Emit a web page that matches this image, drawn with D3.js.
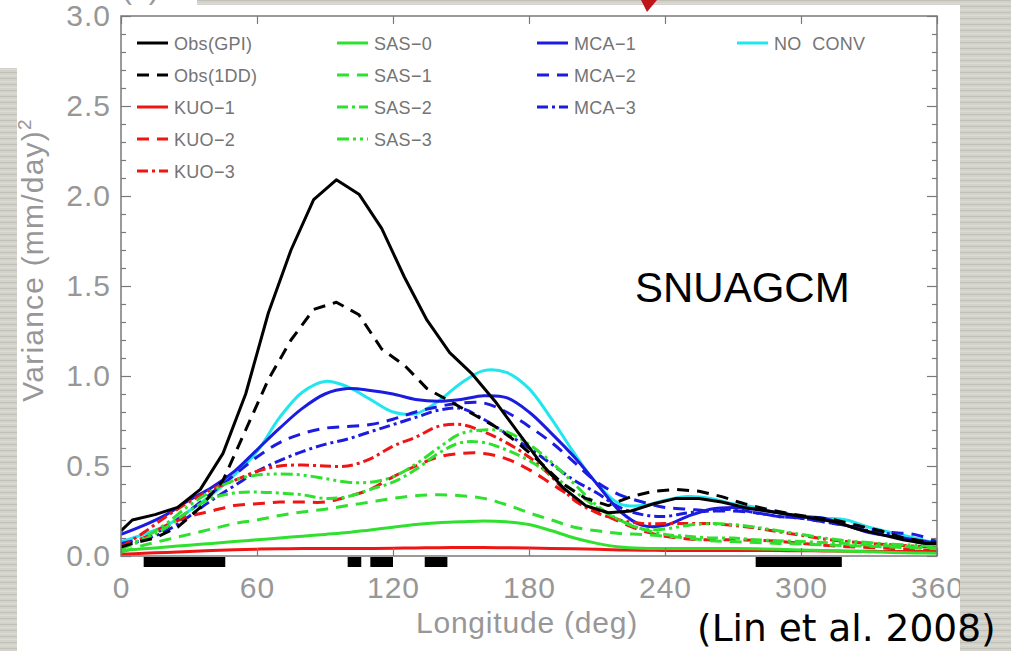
<!DOCTYPE html>
<html>
<head>
<meta charset="utf-8">
<script src="https://cdn.jsdelivr.net/npm/d3@7/dist/d3.min.js"></script>
<style>
  html, body { margin: 0; padding: 0; background: #fff; overflow: hidden; }
</style>
</head>
<body>
<svg id="fig" width="1011" height="651"></svg>
<script>
// Longitude grids (deg): observations are on a 10-deg grid centred at 5, models on 0..360 step 10
const lonObs = [0, 5, 15, 25, 35, 45, 55, 65, 75, 85, 95, 105, 115, 125, 135, 145, 155, 165, 175,
  185, 195, 205, 215, 225, 235, 245, 255, 265, 275, 285, 295, 305, 315, 325, 335, 345, 355, 360];
const lonModel = [0, 10, 20, 30, 40, 50, 60, 70, 80, 90, 100, 110, 120, 130, 140, 150, 160, 170, 180,
  190, 200, 210, 220, 230, 240, 250, 260, 270, 280, 290, 300, 310, 320, 330, 340, 350, 360];

// Variance (mm/day)^2
const obsGPI = [0.14, 0.20, 0.23, 0.27, 0.37, 0.57, 0.90, 1.35, 1.70, 1.98, 2.09, 2.01, 1.82, 1.55, 1.31,
  1.13, 1.01, 0.86, 0.69, 0.52, 0.38, 0.28, 0.24, 0.25, 0.29, 0.32, 0.32, 0.30, 0.27, 0.25, 0.23, 0.21,
  0.19, 0.15, 0.12, 0.09, 0.07, 0.07];
const obs1DD = [0.05, 0.07, 0.10, 0.16, 0.27, 0.42, 0.70, 0.98, 1.20, 1.37, 1.41, 1.34, 1.15, 1.06, 0.93,
  0.86, 0.79, 0.72, 0.63, 0.52, 0.40, 0.32, 0.28, 0.33, 0.36, 0.37, 0.36, 0.33, 0.29, 0.26, 0.235, 0.215,
  0.20, 0.17, 0.14, 0.10, 0.08, 0.07];

const kuo1 = [0.01, 0.015, 0.02, 0.025, 0.03, 0.035, 0.038, 0.04, 0.042, 0.042, 0.042, 0.042, 0.043, 0.045,
  0.046, 0.047, 0.047, 0.046, 0.044, 0.042, 0.04, 0.037, 0.034, 0.032, 0.031, 0.03, 0.03, 0.03, 0.03, 0.03,
  0.029, 0.028, 0.027, 0.026, 0.025, 0.025, 0.025];
const kuo2 = [0.05, 0.10, 0.17, 0.22, 0.25, 0.28, 0.29, 0.30, 0.30, 0.30, 0.33, 0.37, 0.44, 0.50, 0.55, 0.57,
  0.57, 0.54, 0.48, 0.40, 0.32, 0.25, 0.19, 0.14, 0.11, 0.095, 0.09, 0.09, 0.088, 0.082, 0.07, 0.06, 0.052,
  0.047, 0.042, 0.036, 0.03];
const kuo3 = [0.05, 0.13, 0.22, 0.30, 0.37, 0.42, 0.47, 0.50, 0.505, 0.50, 0.50, 0.54, 0.61, 0.66, 0.72, 0.73,
  0.69, 0.63, 0.55, 0.44, 0.31, 0.24, 0.20, 0.18, 0.18, 0.18, 0.18, 0.17, 0.155, 0.135, 0.115, 0.095, 0.08,
  0.07, 0.062, 0.055, 0.05];

const sas0 = [0.03, 0.04, 0.05, 0.06, 0.07, 0.08, 0.09, 0.10, 0.11, 0.12, 0.13, 0.145, 0.16, 0.175, 0.185, 0.19,
  0.195, 0.19, 0.175, 0.14, 0.10, 0.07, 0.05, 0.043, 0.042, 0.042, 0.042, 0.042, 0.04, 0.037, 0.034, 0.03,
  0.027, 0.024, 0.02, 0.017, 0.015];
const sas1 = [0.02, 0.06, 0.09, 0.12, 0.15, 0.18, 0.20, 0.225, 0.245, 0.26, 0.28, 0.30, 0.32, 0.335, 0.34, 0.335,
  0.32, 0.285, 0.24, 0.20, 0.16, 0.14, 0.125, 0.12, 0.11, 0.10, 0.085, 0.08, 0.075, 0.07, 0.067, 0.062, 0.058,
  0.054, 0.05, 0.045, 0.04];
const sas2 = [0.04, 0.09, 0.16, 0.25, 0.32, 0.35, 0.355, 0.35, 0.34, 0.32, 0.33, 0.37, 0.41, 0.48, 0.57, 0.63,
  0.63, 0.59, 0.53, 0.45, 0.36, 0.27, 0.20, 0.15, 0.12, 0.11, 0.10, 0.10, 0.09, 0.085, 0.08, 0.075, 0.07,
  0.06, 0.055, 0.05, 0.045];
const sas3 = [0.04, 0.10, 0.18, 0.28, 0.36, 0.42, 0.45, 0.455, 0.45, 0.43, 0.41, 0.41, 0.44, 0.51, 0.60, 0.68,
  0.70, 0.69, 0.62, 0.52, 0.40, 0.28, 0.20, 0.15, 0.15, 0.17, 0.18, 0.175, 0.16, 0.14, 0.12, 0.10, 0.085,
  0.075, 0.065, 0.06, 0.055];

const mca1 = [0.12, 0.17, 0.23, 0.31, 0.38, 0.47, 0.59, 0.71, 0.82, 0.90, 0.93, 0.92, 0.90, 0.87, 0.86, 0.87,
  0.89, 0.88, 0.80, 0.68, 0.55, 0.40, 0.25, 0.17, 0.17, 0.22, 0.26, 0.27, 0.26, 0.24, 0.22, 0.21, 0.17,
  0.13, 0.11, 0.09, 0.07];
const mca2 = [0.07, 0.10, 0.16, 0.25, 0.35, 0.45, 0.55, 0.63, 0.68, 0.71, 0.72, 0.73, 0.76, 0.80, 0.83, 0.85,
  0.85, 0.80, 0.72, 0.63, 0.52, 0.41, 0.34, 0.30, 0.27, 0.26, 0.25, 0.25, 0.24, 0.22, 0.21, 0.19, 0.17,
  0.15, 0.13, 0.12, 0.08];
const mca3 = [0.06, 0.09, 0.14, 0.22, 0.31, 0.39, 0.47, 0.53, 0.58, 0.62, 0.65, 0.69, 0.73, 0.77, 0.81, 0.82,
  0.76, 0.68, 0.60, 0.51, 0.42, 0.35, 0.27, 0.23, 0.22, 0.24, 0.25, 0.26, 0.24, 0.22, 0.21, 0.19, 0.17,
  0.14, 0.12, 0.08, 0.06];
const noConv = [0.08, 0.12, 0.17, 0.25, 0.34, 0.45, 0.58, 0.77, 0.91, 0.97, 0.94, 0.87, 0.80, 0.79, 0.86, 0.96,
  1.03, 1.02, 0.93, 0.76, 0.57, 0.40, 0.29, 0.28, 0.31, 0.33, 0.32, 0.29, 0.27, 0.24, 0.22, 0.21, 0.20,
  0.16, 0.13, 0.10, 0.07];

// Longitude ranges marked by the black bars under the axis
const barStart = [10, 100, 110, 134, 280];
const barEnd = [46, 106, 120, 144, 318];

const xTicks = [0, 60, 120, 180, 240, 300, 360];
const yMajorTicks = [0, 0.5, 1.0, 1.5, 2.0, 2.5, 3.0];
const yMinorTicks = [0.1, 0.2, 0.3, 0.4, 0.6, 0.7, 0.8, 0.9, 1.1, 1.2, 1.3, 1.4, 1.6, 1.7, 1.8, 1.9,
  2.1, 2.2, 2.3, 2.4, 2.6, 2.7, 2.8, 2.9];

// Line styles
const SOLID = null, DASH = "12,8", DASHDOT = "11,4,3,4", DASHDOT3 = "12,4,3,4,3,4";
const BLACK = "#000000", RED = "#f01515", GREEN = "#2fe02f", BLUE = "#1c1ce0", CYAN = "#22e6ee";

const seriesList = [
  { name: "Obs(GPI)", lon: lonObs, v: obsGPI, color: BLACK, dash: SOLID, curve: d3.curveLinear, col: 0, row: 0 },
  { name: "Obs(1DD)", lon: lonObs, v: obs1DD, color: BLACK, dash: DASH, curve: d3.curveLinear, col: 0, row: 1 },
  { name: "KUO\u22121", lon: lonModel, v: kuo1, color: RED, dash: SOLID, curve: d3.curveCatmullRom, col: 0, row: 2 },
  { name: "KUO\u22122", lon: lonModel, v: kuo2, color: RED, dash: DASH, curve: d3.curveCatmullRom, col: 0, row: 3 },
  { name: "KUO\u22123", lon: lonModel, v: kuo3, color: RED, dash: DASHDOT, curve: d3.curveCatmullRom, col: 0, row: 4 },
  { name: "SAS\u22120", lon: lonModel, v: sas0, color: GREEN, dash: SOLID, curve: d3.curveCatmullRom, col: 1, row: 0 },
  { name: "SAS\u22121", lon: lonModel, v: sas1, color: GREEN, dash: DASH, curve: d3.curveCatmullRom, col: 1, row: 1 },
  { name: "SAS\u22122", lon: lonModel, v: sas2, color: GREEN, dash: DASHDOT, curve: d3.curveCatmullRom, col: 1, row: 2 },
  { name: "SAS\u22123", lon: lonModel, v: sas3, color: GREEN, dash: DASHDOT3, curve: d3.curveCatmullRom, col: 1, row: 3 },
  { name: "MCA\u22121", lon: lonModel, v: mca1, color: BLUE, dash: SOLID, curve: d3.curveCatmullRom, col: 2, row: 0 },
  { name: "MCA\u22122", lon: lonModel, v: mca2, color: BLUE, dash: DASH, curve: d3.curveCatmullRom, col: 2, row: 1 },
  { name: "MCA\u22123", lon: lonModel, v: mca3, color: BLUE, dash: DASHDOT, curve: d3.curveCatmullRom, col: 2, row: 2 },
  { name: "NO  CONV", lon: lonModel, v: noConv, color: CYAN, dash: SOLID, curve: d3.curveCatmullRom, col: 3, row: 0 }
];

const svg = d3.select("#fig");
const W = 1011, H = 651;
const plot = { left: 121, right: 937, top: 16, bottom: 556 };
const x = d3.scaleLinear().domain([0, 360]).range([plot.left, plot.right]);
const y = d3.scaleLinear().domain([0, 3]).range([plot.bottom, plot.top]);
const AXIS_GREY = "#7a7a7a", LABEL_GREY = "#979797";
const SANS = "'Liberation Sans', Arial, sans-serif";

// Slide background stripes
const defs = svg.append("defs");
const pat = defs.append("pattern").attr("id", "stripes").attr("patternUnits", "userSpaceOnUse")
  .attr("width", 10).attr("height", 6);
pat.append("rect").attr("width", 10).attr("height", 6).attr("fill", "#d2d2cb");
pat.append("rect").attr("y", 0).attr("width", 10).attr("height", 1).attr("fill", "#c1c1ba");
pat.append("rect").attr("y", 3).attr("width", 10).attr("height", 1).attr("fill", "#dcdcd6");

svg.append("rect").attr("width", W).attr("height", H).attr("fill", "#ffffff");

// Panel letter, mostly above the top edge
svg.append("text").attr("x", 122).attr("y", -1).attr("font-size", 30).attr("font-family", SANS)
  .attr("fill", LABEL_GREY).text("(a)");

// Significance bars below the axis
svg.append("g").selectAll("rect").data(barStart).join("rect")
  .attr("x", (d) => x(d))
  .attr("width", (d, i) => x(barEnd[i]) - x(d))
  .attr("y", plot.bottom + 1).attr("height", 10).attr("fill", "#000");

// Data curves
defs.append("clipPath").attr("id", "plotClip").append("rect")
  .attr("x", plot.left).attr("y", plot.top).attr("width", plot.right - plot.left).attr("height", plot.bottom - plot.top);
const curves = svg.append("g").attr("clip-path", "url(#plotClip)");
const drawOrder = [12, 9, 10, 11, 2, 3, 4, 5, 6, 7, 8, 1, 0];
drawOrder.forEach((k) => {
  const s = seriesList[k];
  const line = d3.line().x((d, i) => x(s.lon[i])).y((d) => y(d)).curve(s.curve);
  curves.append("path").attr("d", line(s.v)).attr("fill", "none")
    .attr("stroke", s.color).attr("stroke-width", 3)
    .attr("stroke-dasharray", s.dash).attr("stroke-linejoin", "round");
});

// Axes: ticks point inward on all four sides
function styleAxis(g) {
  g.select(".domain").remove();
  g.selectAll(".tick line").attr("stroke", AXIS_GREY).attr("stroke-width", 1.2);
  g.selectAll(".tick text").attr("fill", LABEL_GREY).attr("font-size", 30)
    .attr("font-family", SANS).attr("letter-spacing", 1);
}
svg.append("g").attr("transform", `translate(${plot.left},0)`)
  .call(d3.axisLeft(y).tickValues(yMajorTicks).tickSizeInner(-10).tickSizeOuter(0).tickPadding(10)
    .tickFormat(d3.format(".1f"))).call(styleAxis);
svg.append("g").attr("transform", `translate(${plot.left},0)`)
  .call(d3.axisLeft(y).tickValues(yMinorTicks).tickSizeInner(-5).tickSizeOuter(0).tickFormat(() => "")).call(styleAxis);
svg.append("g").attr("transform", `translate(${plot.right},0)`)
  .call(d3.axisRight(y).tickValues(yMajorTicks).tickSizeInner(-10).tickSizeOuter(0).tickFormat(() => "")).call(styleAxis);
svg.append("g").attr("transform", `translate(${plot.right},0)`)
  .call(d3.axisRight(y).tickValues(yMinorTicks).tickSizeInner(-5).tickSizeOuter(0).tickFormat(() => "")).call(styleAxis);
svg.append("g").attr("transform", `translate(0,${plot.bottom})`)
  .call(d3.axisBottom(x).tickValues(xTicks).tickSizeInner(-8).tickSizeOuter(0).tickPadding(21)
    .tickFormat(d3.format("d"))).call(styleAxis);
svg.append("g").attr("transform", `translate(0,${plot.top})`)
  .call(d3.axisTop(x).tickValues(xTicks).tickSizeInner(-8).tickSizeOuter(0).tickFormat(() => "")).call(styleAxis);

svg.append("rect").attr("x", plot.left).attr("y", plot.top)
  .attr("width", plot.right - plot.left).attr("height", plot.bottom - plot.top)
  .attr("fill", "none").attr("stroke", AXIS_GREY).attr("stroke-width", 1.5);

// Axis titles
svg.append("text").attr("x", 527).attr("y", 633).attr("text-anchor", "middle")
  .attr("font-family", SANS).attr("font-size", 30).attr("letter-spacing", 0.8)
  .attr("fill", LABEL_GREY).text("Longitude (deg)");
const yTitle = svg.append("text").attr("transform", "translate(43,260) rotate(-90)")
  .attr("text-anchor", "middle").attr("font-family", SANS).attr("font-size", 30)
  .attr("letter-spacing", 1.2).attr("fill", LABEL_GREY);
yTitle.append("tspan").text("Variance (mm/day)");
yTitle.append("tspan").attr("dy", -12).attr("font-size", 19).text("2");

// Legend
const legX = [137, 337, 537, 737], legY = [43, 75, 107, 139, 171];
const leg = svg.append("g");
seriesList.forEach((s) => {
  const gx = legX[s.col], gy = legY[s.row];
  leg.append("line").attr("x1", gx).attr("x2", gx + 31).attr("y1", gy).attr("y2", gy)
    .attr("stroke", s.color).attr("stroke-width", 3).attr("stroke-dasharray", s.dash);
  leg.append("text").attr("x", gx + 37).attr("y", gy + 6.5).attr("font-size", 18)
    .attr("font-family", SANS).attr("letter-spacing", 0.3)
    .attr("fill", "#747474").attr("xml:space", "preserve").style("white-space", "pre").text(s.name);
});

// Slide frame stripes (drawn over the figure edges)
svg.append("rect").attr("x", 0).attr("y", 68).attr("width", 17).attr("height", H - 68).attr("fill", "url(#stripes)");
svg.append("rect").attr("x", 197).attr("y", 0).attr("width", W - 197).attr("height", 5).attr("fill", "url(#stripes)");
svg.append("rect").attr("x", 960).attr("y", 0).attr("width", W - 960).attr("height", H).attr("fill", "url(#stripes)");

// Pointer arrow from the slide above
svg.append("path").attr("d", "M641,0 L657,0 L647,12 Z").attr("fill", "#c0141b");

// Model name and citation
svg.append("text").attr("x", 635).attr("y", 302).attr("font-size", 42).attr("fill", "#000")
  .attr("font-family", SANS).text("SNUAGCM");
svg.append("text").attr("x", 697).attr("y", 641).attr("font-size", 37.5).attr("fill", "#000")
  .attr("font-family", "'DejaVu Sans', Verdana, sans-serif").text("(Lin et al. 2008)");
</script>
</body>
</html>
